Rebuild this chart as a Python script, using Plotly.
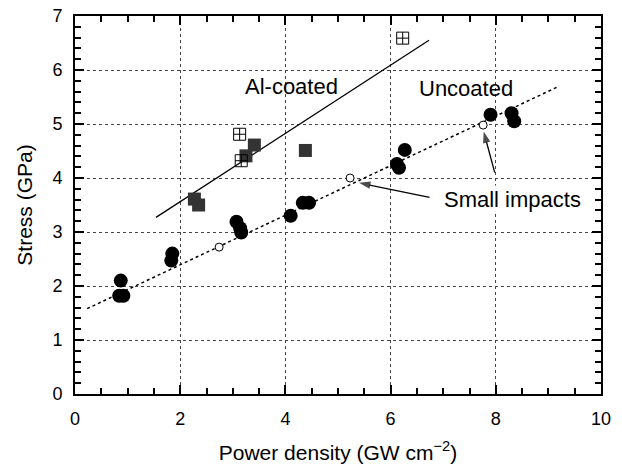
import plotly.graph_objects as go

# Uncoated (filled circles)
unc_x = [0.87, 0.84, 0.92, 1.85, 1.83, 3.07, 3.14, 3.16, 4.10, 4.33, 4.45, 6.12, 6.16, 6.27, 7.90, 8.30, 8.35]
unc_y = [2.10, 1.82, 1.82, 2.60, 2.47, 3.19, 3.07, 2.99, 3.30, 3.54, 3.54, 4.26, 4.19, 4.52, 5.17, 5.20, 5.05]
# Small impacts (open circles)
small_x = [2.74, 5.23, 7.76]
small_y = [2.72, 4.00, 4.98]
# Al-coated open crossed squares
alo_x = [3.13, 3.16, 6.23]
alo_y = [4.81, 4.32, 6.59]
# Al-coated filled squares
alf_x = [2.27, 2.35, 3.25, 3.41, 4.38]
alf_y = [3.61, 3.50, 4.41, 4.61, 4.51]
# Fit lines
al_fit_x = [1.54, 6.73]
al_fit_y = [3.27, 6.55]
unc_fit_x = [0.23, 9.16]
unc_fit_y = [1.58, 5.68]
# Arrows (tail -> head)
arrow1_x = [6.74, 5.40]
arrow1_y = [3.64, 3.91]
arrow2_x = [7.98, 7.77]
arrow2_y = [4.10, 4.86]

FONT = "Liberation Sans, Arial, sans-serif"

fig = go.Figure()
fig.add_trace(go.Scatter(x=al_fit_x, y=al_fit_y, mode="lines",
                         line=dict(color="black", width=1.3), showlegend=False))
fig.add_trace(go.Scatter(x=unc_fit_x, y=unc_fit_y, mode="lines",
                         line=dict(color="black", width=1.5, dash="dot"), showlegend=False))
fig.add_trace(go.Scatter(x=alf_x, y=alf_y, mode="markers",
                         marker=dict(symbol="square", size=13, color="#333333",
                                     line=dict(color="#222", width=0)), showlegend=False))
fig.add_trace(go.Scatter(x=alo_x, y=alo_y, mode="markers",
                         marker=dict(symbol="square-cross-open", size=12, color="black",
                                     line=dict(color="black", width=1)), showlegend=False))
fig.add_trace(go.Scatter(x=unc_x, y=unc_y, mode="markers",
                         marker=dict(symbol="circle", size=14, color="black"), showlegend=False))
fig.add_trace(go.Scatter(x=small_x, y=small_y, mode="markers",
                         marker=dict(symbol="circle", size=8, color="white",
                                     line=dict(color="black", width=1)), showlegend=False))
for ax_, ay_ in [(arrow1_x, arrow1_y), (arrow2_x, arrow2_y)]:
    fig.add_trace(go.Scatter(x=ax_, y=ay_, mode="lines+markers",
                             line=dict(color="black", width=1.3),
                             marker=dict(symbol=["circle", "arrow"], size=[0, 12],
                                         angleref="previous", color="black",
                                         line=dict(width=0)),
                             showlegend=False))

ann_font = dict(family=FONT, size=22, color="black")
fig.add_annotation(x=4.11, y=5.70, text="Al-coated", showarrow=False, font=ann_font)
fig.add_annotation(x=7.43, y=5.65, text="Uncoated", showarrow=False, font=ann_font)
fig.add_annotation(x=8.32, y=3.61, text="Small impacts", showarrow=False,
                   font=ann_font, bgcolor="white")

axis_common = dict(showline=True, linecolor="black", linewidth=2, mirror="allticks",
                   ticks="inside", ticklen=9, tickwidth=2, tickcolor="black",
                   showgrid=True, gridcolor="#444", griddash="dot", gridwidth=1,
                   zeroline=False, ticklabelstandoff=7, automargin=False,
                   tickfont=dict(family=FONT, size=18, color="black"))

fig.update_xaxes(range=[0, 10], dtick=2, tick0=0,
                 minor=dict(dtick=0.5, ticks="inside", ticklen=6, tickcolor="black", tickwidth=1.5, showgrid=False),
                 title=dict(text="Power density (GW cm<sup>−2</sup>)", font=dict(family=FONT, size=21, color="black"), standoff=18),
                 **axis_common)
fig.update_yaxes(range=[0, 7], dtick=1, tick0=0,
                 minor=dict(dtick=0.2, ticks="inside", ticklen=6, tickcolor="black", tickwidth=1.5, showgrid=False),
                 title=dict(text="Stress (GPa)", font=dict(family=FONT, size=21, color="black"), standoff=14),
                 **axis_common)

fig.update_layout(width=622, height=465, margin=dict(l=75, r=21, t=16, b=71),
                  plot_bgcolor="white", paper_bgcolor="white",
                  font=dict(family=FONT, color="black"))

fig.write_html("out.html")
